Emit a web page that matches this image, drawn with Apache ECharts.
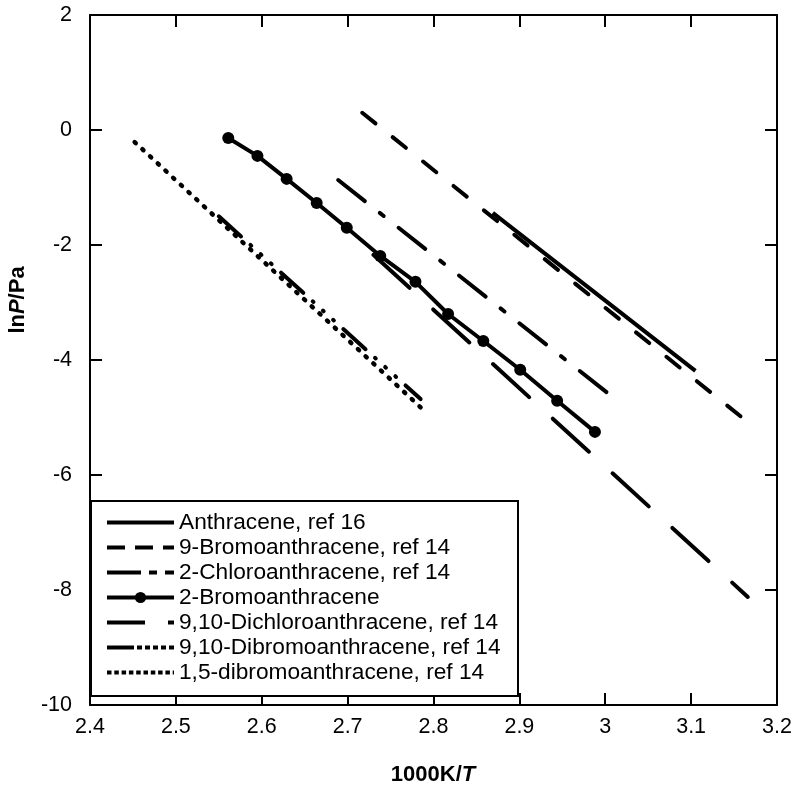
<!DOCTYPE html>
<html><head><meta charset="utf-8">
<script src="https://cdn.jsdelivr.net/npm/echarts@6/dist/echarts.min.js"></script>
<style>html,body{margin:0;padding:0;background:#fff}#c{width:800px;height:788px}</style>
</head><body><div id="c"></div>
<script>
const FONT = '"Liberation Sans", Arial, sans-serif';
const seriesNames = [
  'Anthracene, ref 16',
  '9-Bromoanthracene, ref 14',
  '2-Chloroanthracene, ref 14',
  '2-Bromoanthracene',
  '9,10-Dichloroanthracene, ref 14',
  '9,10-Dibromoanthracene, ref 14',
  '1,5-dibromoanthracene, ref 14'
];
const xTicks = ['2.4','2.5','2.6','2.7','2.8','2.9','3','3.1','3.2'];
const yTicks = ['-10','-8','-6','-4','-2','0','2'];

const anthraceneX = [2.869, 3.105];
const anthraceneY = [-1.44, -4.19];
const bromo9X = [2.717, 3.166];
const bromo9Y = [0.30, -5.08];
const chloro2X = [2.689, 3.010];
const chloro2Y = [-0.87, -4.66];
const bromo2X = [2.561, 2.595, 2.629, 2.664, 2.699, 2.738, 2.779, 2.817, 2.858, 2.901, 2.944, 2.988];
const bromo2Y = [-0.14, -0.45, -0.85, -1.27, -1.70, -2.19, -2.64, -3.20, -3.67, -4.17, -4.71, -5.25];
const dichloroX = [2.730, 3.166];
const dichloroY = [-2.17, -8.12];
const dibromo910X = [2.550, 2.785];
const dibromo910Y = [-1.50, -4.68];
const dibromo15X = [2.452, 2.792];
const dibromo15Y = [-0.21, -4.92];

const xs = [anthraceneX, bromo9X, chloro2X, bromo2X, dichloroX, dibromo910X, dibromo15X];
const ys = [anthraceneY, bromo9Y, chloro2Y, bromo2Y, dichloroY, dibromo910Y, dibromo15Y];
const pair = (x, y) => x.map((v, i) => [v, y[i]]);

const plotDash = ['solid', [17, 22], [34, 19, 5, 19], 'solid', [49, 32], [30, 12.75, 1, 12.75, 1, 12.75, 1, 12.75], [1.5, 9]];
const legendDash = ['solid', [18, 10], [34, 8, 8, 8], 'solid', [38, 23], [27, 3, 5, 3, 5, 3, 5, 3, 5, 3], [4.5, 2.8]];

const series = seriesNames.map((n, i) => ({
  name: n,
  type: 'line',
  data: pair(xs[i], ys[i]),
  symbol: i === 3 ? 'circle' : 'none',
  symbolSize: 12,
  showSymbol: i === 3,
  itemStyle: {color: '#000'},
  lineStyle: {color: '#000', width: i === 6 ? 4.5 : 4, type: plotDash[i], cap: (i === 0 || i === 3) ? 'butt' : 'round'},
  silent: true,
  z: 3
}));

const chart = echarts.init(document.getElementById('c'));
const axisCommon = {
  axisLine: {show: true, onZero: false, lineStyle: {color: '#000', width: 2}},
  axisTick: {show: true, inside: true, length: 12, lineStyle: {color: '#000', width: 2}},
  splitLine: {show: false}
};
chart.setOption({
  animation: false,
  backgroundColor: '#fff',
  grid: {left: 90, right: 23, top: 15, bottom: 83, containLabel: false},
  xAxis: [
    Object.assign({type: 'value', min: 2.4, max: 3.2, interval: 0.1, position: 'bottom',
      axisLabel: {color: '#000', fontSize: 21.5, fontFamily: FONT, margin: 11,
        formatter: v => xTicks[Math.round((v - 2.4) / 0.1)]}}, axisCommon),
    Object.assign({type: 'value', min: 2.4, max: 3.2, interval: 0.1, position: 'top',
      axisLabel: {show: false}}, axisCommon)
  ],
  yAxis: [
    Object.assign({type: 'value', min: -10, max: 2, interval: 2, position: 'left',
      axisLabel: {color: '#000', fontSize: 21.5, fontFamily: FONT, margin: 18,
        formatter: v => yTicks[Math.round((v + 10) / 2)]}}, axisCommon),
    Object.assign({type: 'value', min: -10, max: 2, interval: 2, position: 'right',
      axisLabel: {show: false}}, axisCommon)
  ],
  legend: {
    orient: 'vertical', left: 100, top: 506, z: 20,
    itemWidth: 67, itemHeight: 14, itemGap: 2,
    selectedMode: false,
    textStyle: {color: '#000', fontSize: 22.7, lineHeight: 22, fontFamily: FONT},
    data: seriesNames.map((n, i) => ({
      name: n,
      itemStyle: i === 3 ? {color: '#000'} : {color: '#000', opacity: 0},
      lineStyle: {color: '#000', width: 4, type: legendDash[i], cap: 'butt', opacity: 1}
    }))
  },
  graphic: [
    {type: 'rect', shape: {x: 91, y: 501, width: 427, height: 195},
      style: {fill: '#fff', stroke: '#000', lineWidth: 2}, z: 10, silent: true},
    {type: 'text', x: 433, y: 775, z: 5,
      style: {text: '{b|1000K/}{bi|T}', align: 'center', verticalAlign: 'middle',
        rich: {b: {fontSize: 22, fontWeight: 'bold', fontFamily: FONT, fill: '#000'},
               bi: {fontSize: 22, fontWeight: 'bold', fontStyle: 'italic', fontFamily: FONT, fill: '#000'}}}},
    {type: 'text', x: 18, y: 300, rotation: Math.PI / 2, z: 5,
      style: {text: '{b|ln}{bi|P}{b|/Pa}', align: 'center', verticalAlign: 'middle',
        rich: {b: {fontSize: 22, fontWeight: 'bold', fontFamily: FONT, fill: '#000'},
               bi: {fontSize: 22, fontWeight: 'bold', fontStyle: 'italic', fontFamily: FONT, fill: '#000'}}}}
  ],
  series: series
});
</script></body></html>
